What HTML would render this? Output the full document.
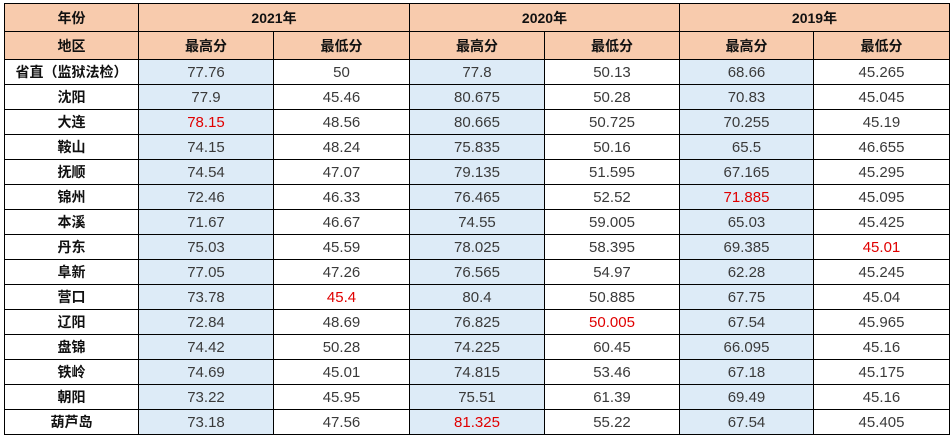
<!DOCTYPE html>
<html><head><meta charset="utf-8"><style>
html,body{margin:0;padding:0;background:#fff;width:951px;height:437px;overflow:hidden}
table{position:absolute;left:4px;top:3px;border-collapse:collapse;table-layout:fixed;width:945px;font-family:"Liberation Sans","Noto Sans CJK SC",sans-serif}
td{border:1px solid #000;text-align:center;padding:0;height:24px;font-size:15px;color:#3a3a3a;overflow:hidden;white-space:nowrap}
tr.h td{height:27px;background:#F8CBAD;color:#111;font-weight:bold;font-size:14px}
td.n{font-weight:bold;color:#111;font-size:14px}
td.b{background:#DDEBF7}
.r{color:#e00000}
</style></head><body>
<table>
<colgroup><col style="width:134px"><col style="width:135px"><col style="width:136px"><col style="width:135px"><col style="width:135px"><col style="width:134px"><col style="width:136px"></colgroup>
<tr class="h"><td>年份</td><td colspan="2">2021年</td><td colspan="2">2020年</td><td colspan="2">2019年</td></tr>
<tr class="h"><td>地区</td><td>最高分</td><td>最低分</td><td>最高分</td><td>最低分</td><td>最高分</td><td>最低分</td></tr>
<tr><td class="n">省直（监狱法检）</td><td class="b">77.76</td><td>50</td><td class="b">77.8</td><td>50.13</td><td class="b">68.66</td><td>45.265</td></tr>
<tr><td class="n">沈阳</td><td class="b">77.9</td><td>45.46</td><td class="b">80.675</td><td>50.28</td><td class="b">70.83</td><td>45.045</td></tr>
<tr><td class="n">大连</td><td class="b r">78.15</td><td>48.56</td><td class="b">80.665</td><td>50.725</td><td class="b">70.255</td><td>45.19</td></tr>
<tr><td class="n">鞍山</td><td class="b">74.15</td><td>48.24</td><td class="b">75.835</td><td>50.16</td><td class="b">65.5</td><td>46.655</td></tr>
<tr><td class="n">抚顺</td><td class="b">74.54</td><td>47.07</td><td class="b">79.135</td><td>51.595</td><td class="b">67.165</td><td>45.295</td></tr>
<tr><td class="n">锦州</td><td class="b">72.46</td><td>46.33</td><td class="b">76.465</td><td>52.52</td><td class="b r">71.885</td><td>45.095</td></tr>
<tr><td class="n">本溪</td><td class="b">71.67</td><td>46.67</td><td class="b">74.55</td><td>59.005</td><td class="b">65.03</td><td>45.425</td></tr>
<tr><td class="n">丹东</td><td class="b">75.03</td><td>45.59</td><td class="b">78.025</td><td>58.395</td><td class="b">69.385</td><td class="r">45.01</td></tr>
<tr><td class="n">阜新</td><td class="b">77.05</td><td>47.26</td><td class="b">76.565</td><td>54.97</td><td class="b">62.28</td><td>45.245</td></tr>
<tr><td class="n">营口</td><td class="b">73.78</td><td class="r">45.4</td><td class="b">80.4</td><td>50.885</td><td class="b">67.75</td><td>45.04</td></tr>
<tr><td class="n">辽阳</td><td class="b">72.84</td><td>48.69</td><td class="b">76.825</td><td class="r">50.005</td><td class="b">67.54</td><td>45.965</td></tr>
<tr><td class="n">盘锦</td><td class="b">74.42</td><td>50.28</td><td class="b">74.225</td><td>60.45</td><td class="b">66.095</td><td>45.16</td></tr>
<tr><td class="n">铁岭</td><td class="b">74.69</td><td>45.01</td><td class="b">74.815</td><td>53.46</td><td class="b">67.18</td><td>45.175</td></tr>
<tr><td class="n">朝阳</td><td class="b">73.22</td><td>45.95</td><td class="b">75.51</td><td>61.39</td><td class="b">69.49</td><td>45.16</td></tr>
<tr><td class="n">葫芦岛</td><td class="b">73.18</td><td>47.56</td><td class="b r">81.325</td><td>55.22</td><td class="b">67.54</td><td>45.405</td></tr>
</table>
</body></html>
